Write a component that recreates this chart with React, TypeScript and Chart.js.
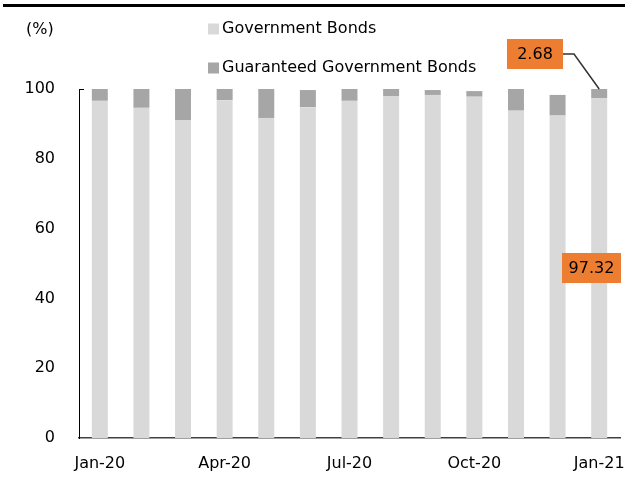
import React, { useEffect, useRef } from "react";
import { Chart, registerables } from "chart.js";

Chart.register(...registerables);

const categories = ["Jan-20", "Feb-20", "Mar-20", "Apr-20", "May-20", "Jun-20", "Jul-20", "Aug-20", "Sep-20", "Oct-20", "Nov-20", "Dec-20", "Jan-21"];
const govBonds = [96.6, 94.6, 91.1, 96.8, 91.7, 94.8, 96.6, 98.0, 98.3, 97.8, 93.8, 92.4, 97.32];
const guaranteedBonds = [3.4, 5.4, 8.9, 3.2, 8.3, 4.9, 3.4, 2.0, 1.4, 1.6, 6.2, 5.9, 2.68];
const yTicks = [0, 20, 40, 60, 80, 100];
const seriesNames = ["Government Bonds", "Guaranteed Government Bonds"];
const seriesColors = ["#d9d9d9", "#a6a6a6"];

const FONT = "'DejaVu Sans', sans-serif";

const decorPlugin = {
  id: "decor",
  afterDraw(chart: any) {
    const ctx = chart.ctx;
    const area = chart.chartArea;
    ctx.save();
    // top rule
    ctx.fillStyle = "#000";
    ctx.fillRect(3, 4, 622, 3);
    // unit label
    ctx.font = `16px ${FONT}`;
    ctx.fillStyle = "#000";
    ctx.textBaseline = "middle";
    ctx.textAlign = "left";
    ctx.fillText("(%)", 26, 30);
    // legend
    const legY = [29, 68];
    seriesNames.forEach((n, i) => {
      ctx.fillStyle = seriesColors[i];
      ctx.fillRect(208, legY[i] - 5.5, 11, 11);
      ctx.fillStyle = "#000";
      ctx.fillText(n, 222, legY[i]);
    });
    // top tick on y axis
    ctx.strokeStyle = "#000";
    ctx.lineWidth = 1;
    ctx.beginPath();
    ctx.moveTo(area.left, area.top + 0.5);
    ctx.lineTo(area.left + 5, area.top + 0.5);
    ctx.stroke();

    const last = categories.length - 1;
    const metaTop = chart.getDatasetMeta(1).data[last];
    // 2.68 box
    const b1 = { x: 507, y: 39, w: 56, h: 30 };
    ctx.strokeStyle = "#333";
    ctx.lineWidth = 1.5;
    ctx.beginPath();
    ctx.moveTo(b1.x + b1.w, b1.y + b1.h / 2);
    ctx.lineTo(574, b1.y + b1.h / 2);
    ctx.lineTo(metaTop.x, metaTop.y);
    ctx.stroke();
    ctx.fillStyle = "#ed7d31";
    ctx.fillRect(b1.x, b1.y, b1.w, b1.h);
    ctx.fillStyle = "#000";
    ctx.textAlign = "center";
    ctx.fillText(guaranteedBonds[last].toFixed(2), b1.x + b1.w / 2, b1.y + b1.h / 2 + 1);
    // 97.32 box
    const b2 = { x: 562, y: 253, w: 59, h: 30 };
    ctx.fillStyle = "#ed7d31";
    ctx.fillRect(b2.x, b2.y, b2.w, b2.h);
    ctx.fillStyle = "#000";
    ctx.fillText(govBonds[last].toFixed(2), b2.x + b2.w / 2, b2.y + b2.h / 2 + 1);
    ctx.restore();
  },
};

export default function App() {
  const ref = useRef<HTMLCanvasElement>(null);
  useEffect(() => {
    document.body.style.margin = "0";
    const chart = new Chart(ref.current as HTMLCanvasElement, {
      type: "bar",
      data: {
        labels: categories,
        datasets: [
          { label: seriesNames[0], data: govBonds, backgroundColor: seriesColors[0], categoryPercentage: 0.8, barPercentage: 0.48 },
          { label: seriesNames[1], data: guaranteedBonds, backgroundColor: seriesColors[1], categoryPercentage: 0.8, barPercentage: 0.48 },
        ],
      },
      options: {
        animation: false,
        responsive: false,
        layout: { padding: { left: 0, top: 89, right: 5, bottom: 0 } },
        plugins: { legend: { display: false }, tooltip: { enabled: false } },
        scales: {
          x: {
            stacked: true,
            grid: { display: false, drawTicks: false },
            border: { display: true, color: "#404040", width: 1.5 },
            ticks: {
              autoSkip: false,
              maxRotation: 0,
              padding: 16,
              color: "#000",
              font: { family: FONT, size: 16 },
              callback: (v: any, i: number) => (i % 3 === 0 ? categories[i] : ""),
            },
            afterFit: (s: any) => { s.height = 45; s.paddingLeft = 0; s.paddingRight = 0; },
          },
          y: {
            stacked: true,
            min: 0,
            max: 100,
            afterBuildTicks: (s: any) => { s.ticks = yTicks.map((v) => ({ value: v })); },
            grid: { display: false, drawTicks: false },
            border: { display: true, color: "#000", width: 1 },
            ticks: { padding: 24, color: "#000", font: { family: FONT, size: 16 } },
            afterFit: (s: any) => { s.width = 79; s.paddingTop = 0; s.paddingBottom = 0; },
          },
        },
      },
      plugins: [decorPlugin],
    });
    return () => chart.destroy();
  }, []);
  return (
    <div style={{ position: "fixed", left: 0, top: 0, width: 625, height: 483, background: "#fff" }}>
      <canvas ref={ref} width={625} height={483} style={{ width: 625, height: 483 }} />
    </div>
  );
}
